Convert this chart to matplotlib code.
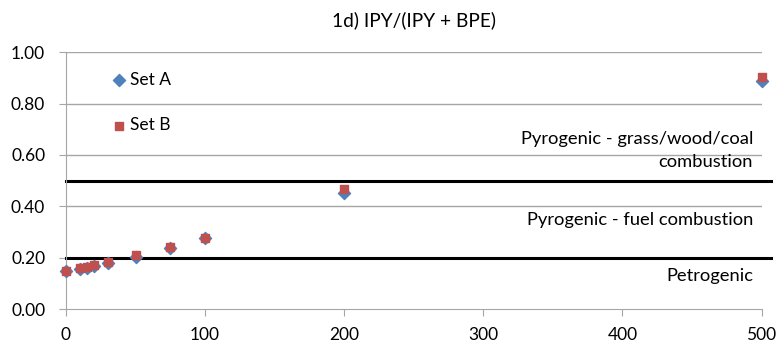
import matplotlib.pyplot as plt

# data
x_vals = [0, 10, 15, 20, 30, 50, 75, 100, 200, 500]
set_a = [0.148, 0.157, 0.161, 0.169, 0.180, 0.204, 0.239, 0.276, 0.450, 0.887]
set_b = [0.150, 0.159, 0.163, 0.171, 0.184, 0.209, 0.241, 0.278, 0.466, 0.904]

threshold_lines = [0.2, 0.5]
zone_labels = ["Petrogenic", "Pyrogenic - fuel combustion",
               "Pyrogenic - grass/wood/coal\ncombustion"]
zone_y = [0.128, 0.346, 0.617]

plt.rcParams["font.family"] = ["Lato", "DejaVu Sans"]
plt.rcParams["font.size"] = 12

fig = plt.figure(figsize=(7.78, 3.45), dpi=100)
ax = fig.add_axes([0.0848, 0.104, 0.894, 0.745])

grid_col = "#a6a6a6"
for yv in [0.2, 0.4, 0.6, 0.8, 1.0]:
    ax.axhline(yv, color=grid_col, lw=1.0, zorder=1)

# black boundary lines run a little past the right edge, as in the original
for yv in threshold_lines:
    ax.plot([0, 507], [yv, yv], color="black", lw=2.2, clip_on=False, zorder=2)

ax.scatter(x_vals, set_a, marker="D", s=38, color="#4F81BD", label="Set A",
           zorder=3, clip_on=False)
ax.scatter(x_vals, set_b, marker="s", s=30, color="#C0504D", label="Set B",
           zorder=4, clip_on=False)

for lab, yv in zip(zone_labels, zone_y):
    ax.text(494, yv, lab, ha="right", va="center", fontsize=13.2,
            linespacing=1.5)

ax.set_xlim(0, 500)
ax.set_ylim(0, 1.0)
ax.set_xticks([0, 100, 200, 300, 400, 500])
ax.set_yticks([0, 0.2, 0.4, 0.6, 0.8, 1.0])
ax.set_yticklabels([f"{v:.2f}" for v in [0, 0.2, 0.4, 0.6, 0.8, 1.0]])

for s in ["top", "right"]:
    ax.spines[s].set_visible(False)
for s in ["left", "bottom"]:
    ax.spines[s].set_color(grid_col)
ax.tick_params(axis="both", color=grid_col, length=5, labelsize=12.5)
ax.tick_params(axis="x", pad=8)
ax.tick_params(axis="y", pad=10)

ax.set_title("1d) IPY/(IPY + BPE)", fontsize=13.8, pad=19)

ax.legend(loc="upper left", bbox_to_anchor=(0.04, 0.985), frameon=False,
          labelspacing=1.7, handletextpad=0.1, handlelength=1.1,
          fontsize=12.5, scatterpoints=1)

fig.savefig("out.png", dpi=100)
